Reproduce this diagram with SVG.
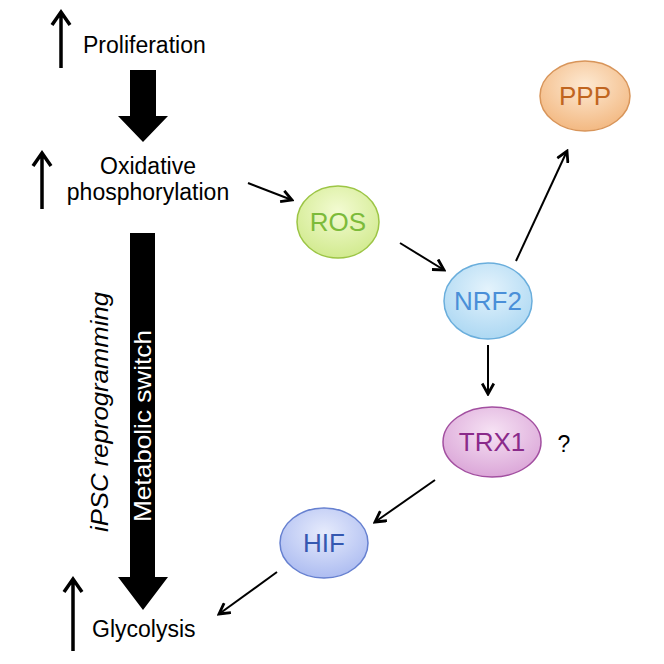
<svg xmlns="http://www.w3.org/2000/svg" width="664" height="664" viewBox="0 0 664 664">
<defs>
<marker id="open" viewBox="0 0 12 12" refX="10" refY="6" markerWidth="7" markerHeight="7" orient="auto" markerUnits="strokeWidth">
<path d="M1,1 L10,6 L1,11" fill="none" stroke="#000" stroke-width="2.4"/>
</marker>
<radialGradient id="gRos" cx="0.5" cy="0.35" r="0.7"><stop offset="0" stop-color="#f3fbd2"/><stop offset="1" stop-color="#cfe98a"/></radialGradient>
<radialGradient id="gNrf" cx="0.5" cy="0.35" r="0.7"><stop offset="0" stop-color="#e4f3fc"/><stop offset="1" stop-color="#a9d6f2"/></radialGradient>
<radialGradient id="gPpp" cx="0.5" cy="0.35" r="0.7"><stop offset="0" stop-color="#fde9d2"/><stop offset="1" stop-color="#f2b57c"/></radialGradient>
<radialGradient id="gTrx" cx="0.5" cy="0.35" r="0.7"><stop offset="0" stop-color="#f6e2f4"/><stop offset="1" stop-color="#d9a2d6"/></radialGradient>
<radialGradient id="gHif" cx="0.5" cy="0.35" r="0.7"><stop offset="0" stop-color="#e6ebfc"/><stop offset="1" stop-color="#a9b9f0"/></radialGradient>
</defs>
<style>
.lbl{font-family:"Liberation Sans",Arial,sans-serif;font-size:23px;fill:#000}
.nt{font-family:"Liberation Sans",Arial,sans-serif;font-size:26px;text-anchor:middle}
.conn{stroke:#000;stroke-width:2;fill:none;marker-end:url(#open)}
.up{stroke:#000;stroke-width:3.5;fill:none}
</style>
<rect width="664" height="664" fill="#fff"/>

<g id="proliferation">
<path class="up" d="M61,68 V13 M52,25 L61,12 L70,25"/>
<text class="lbl" x="83" y="53">Proliferation</text>
</g>
<g id="block-arrow-1">
<polygon points="130,70 156,70 156,116 168,116 143,142 118,116 130,116" fill="#000"/>
</g>
<g id="oxphos">
<path class="up" d="M42,209 V154 M33,166 L42,153 L51,166"/>
<text class="lbl" x="148" y="174" text-anchor="middle">Oxidative</text>
<text class="lbl" x="148" y="200" text-anchor="middle">phosphorylation</text>
</g>
<g id="block-arrow-2">
<polygon points="130,233 155,233 155,577 168,577 143,610 118,577 130,577" fill="#000"/>
<text x="0" y="0" transform="translate(151,426) rotate(-90)" text-anchor="middle" font-family="Liberation Sans, Arial, sans-serif" font-size="24" fill="#fff" textLength="192" lengthAdjust="spacingAndGlyphs">Metabolic switch</text>
</g>
<g id="ipsc">
<text x="0" y="0" transform="translate(108,412) rotate(-90)" text-anchor="middle" font-family="Liberation Sans, Arial, sans-serif" font-size="24" font-style="italic" fill="#000" textLength="240" lengthAdjust="spacingAndGlyphs">iPSC reprogramming</text>
</g>
<g id="glycolysis">
<path class="up" d="M73,651 V580 M64,592 L73,579 L82,592"/>
<text class="lbl" x="92" y="637">Glycolysis</text>
</g>

<g id="ROS">
<ellipse cx="338" cy="222" rx="41" ry="36" fill="url(#gRos)" stroke="#9cc545" stroke-width="1.5"/>
<text class="nt" x="338" y="231" fill="#7cbb3a">ROS</text>
</g>
<g id="NRF2">
<ellipse cx="488" cy="301" rx="44" ry="38" fill="url(#gNrf)" stroke="#6aaedc" stroke-width="1.5"/>
<text class="nt" x="488" y="310" fill="#4a8fd8">NRF2</text>
</g>
<g id="PPP">
<ellipse cx="585" cy="96" rx="45" ry="35" fill="url(#gPpp)" stroke="#d8955a" stroke-width="1.5"/>
<text class="nt" x="585" y="105" fill="#c0651f">PPP</text>
</g>
<g id="TRX1">
<ellipse cx="492" cy="442" rx="49" ry="35" fill="url(#gTrx)" stroke="#a24fa0" stroke-width="1.5"/>
<text class="nt" x="492" y="451" fill="#8a2a8a">TRX1</text>
</g>
<g id="question">
<text class="lbl" x="564" y="452" text-anchor="middle" font-size="24">?</text>
</g>
<g id="HIF">
<ellipse cx="324" cy="543" rx="44" ry="35" fill="url(#gHif)" stroke="#6680d0" stroke-width="1.5"/>
<text class="nt" x="324" y="552" fill="#3558b0">HIF</text>
</g>

<g id="connectors">
<line class="conn" x1="248" y1="183" x2="292" y2="200"/>
<line class="conn" x1="400" y1="243" x2="444" y2="270"/>
<line class="conn" x1="516" y1="261" x2="567" y2="151"/>
<line class="conn" x1="488" y1="345" x2="488" y2="394"/>
<line class="conn" x1="435" y1="480" x2="375" y2="522"/>
<line class="conn" x1="277" y1="572" x2="219" y2="614"/>
</g>
</svg>
